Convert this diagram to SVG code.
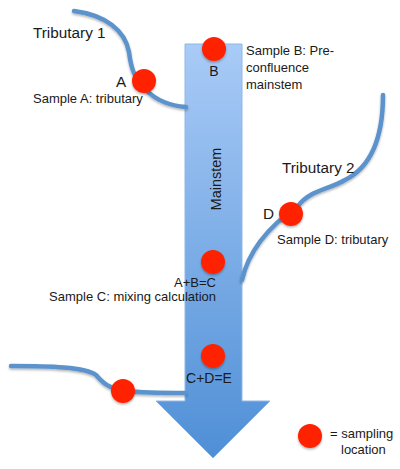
<svg xmlns="http://www.w3.org/2000/svg" width="400" height="469" viewBox="0 0 400 469">
<defs>
<linearGradient id="g" x1="0" y1="0" x2="0" y2="1">
<stop offset="0" stop-color="#a9cbf7"/>
<stop offset="1" stop-color="#4f8fd6"/>
</linearGradient>
<filter id="sh" x="-30%" y="-30%" width="160%" height="160%">
<feDropShadow dx="0" dy="1.5" stdDeviation="1.2" flood-color="#000" flood-opacity="0.3"/>
</filter>
</defs>
<style>
.riv{fill:none;stroke:#5b93cc;stroke-width:4.5;stroke-linecap:round;filter:url(#sh)}
.pt{fill:#ff2200;filter:url(#sh)}
text{font-family:"Liberation Sans",Arial,sans-serif;font-size:13px;fill:#1a1a1a}
.big{font-size:15.3px}
.mid{font-size:14px}
</style>
<g id="mainstem">
<path d="M185,44 H242 V401 H270 L213,458 L156,401 H185 Z" fill="url(#g)" stroke="#8fb7e6" stroke-width="1"/>
<text class="mid" transform="translate(221,179) rotate(-90)" text-anchor="middle" style="font-size:14.5px">Mainstem</text>
</g>
<g id="connectors">
<path class="riv" d="M74,11 C105,15 125,30 129,52 C131,68 134,78 146,90 C158,102 172,106 186,107"/>
<path class="riv" d="M383,95 C383,130 375,165 345,180 C328,190 310,190 298,206 C275,222 250,245 242,280"/>
<path class="riv" d="M11,366 C50,366 85,367 96,375 C103,383 108,388 125,391 C145,393 165,393 185,393"/>
</g>
<g id="tributary1">
<text class="big" x="33" y="38">Tributary 1</text>
</g>
<g id="sampleA">
<circle class="pt" cx="144" cy="81" r="12"/>
<text class="big" x="116" y="87">A</text>
<text x="33" y="103">Sample A: tributary</text>
</g>
<g id="sampleB">
<circle class="pt" cx="214" cy="49" r="12"/>
<text class="mid" x="214" y="76" text-anchor="middle">B</text>
<text x="246" y="55">Sample B: Pre-</text>
<text x="246" y="72">confluence</text>
<text x="246" y="89">mainstem</text>
</g>
<g id="tributary2">
<text class="big" x="282" y="173">Tributary 2</text>
</g>
<g id="sampleD">
<circle class="pt" cx="291" cy="214" r="12"/>
<text class="big" x="263" y="219">D</text>
<text x="277" y="244">Sample D: tributary</text>
</g>
<g id="sampleC">
<circle class="pt" cx="213" cy="262" r="12"/>
<text x="216" y="287" text-anchor="end">A+B=C</text>
<text x="216" y="301" text-anchor="end">Sample C: mixing calculation</text>
</g>
<g id="sampleE">
<circle class="pt" cx="213" cy="356" r="12"/>
<text class="mid" x="209" y="383" text-anchor="middle">C+D=E</text>
</g>
<g id="tributary3">
<circle class="pt" cx="123" cy="391" r="12"/>
</g>
<g id="legend">
<circle class="pt" cx="310" cy="436" r="12"/>
<text x="330" y="438">= sampling</text>
<text x="341" y="454">location</text>
</g>
</svg>
